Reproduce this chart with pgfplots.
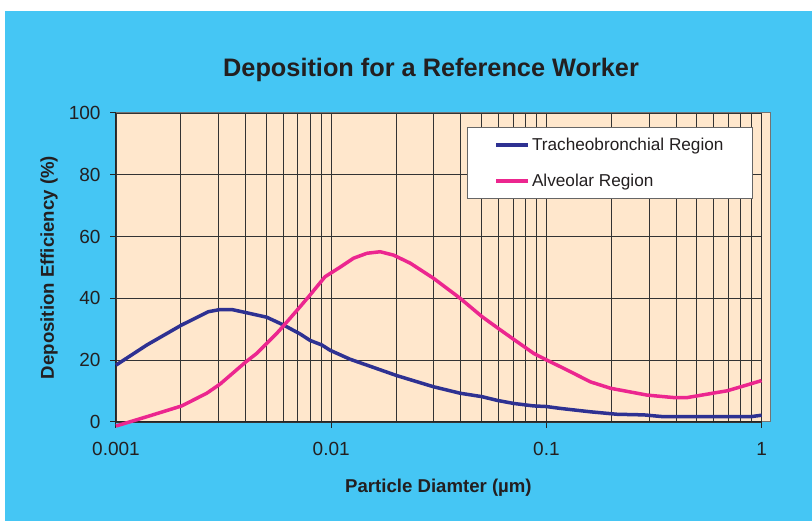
\documentclass[border=0pt]{standalone}
\usepackage{fontspec}
\setmainfont{Liberation Sans}
\usepackage{pgfplots}
\pgfplotsset{compat=1.18}
\definecolor{bgblue}{HTML}{45C6F4}
\definecolor{peach}{HTML}{FFE7CC}
\definecolor{tbblue}{HTML}{2E3192}
\definecolor{alvpink}{HTML}{EC268F}
\definecolor{txt}{HTML}{231F20}
\begin{document}
\begin{tikzpicture}[x=1pt,y=1pt]
\fill[white] (0,0) rectangle (812,521);
\fill[bgblue] (5,0) rectangle (812,510);
\fill[peach] (116,99) rectangle (770,408);
\draw[black!55, line width=1pt] (116,99) rectangle (770,408);
\begin{axis}[
  at={(116pt,99pt)}, anchor=south west,
  scale only axis, width=645.6pt, height=309pt,
  xmode=log, xmin=0.001, xmax=1, ymin=0, ymax=100,
  clip=false,
  axis x line=bottom, axis y line=left,
  axis line style={-, draw=black!85, line width=1pt},
  xtick={0.001,0.01,0.1,1}, xticklabels={0.001,0.01,0.1,1},
  ytick={0,20,40,60,80,100},
  tick align=outside, major tick length=6pt, minor tick length=0pt,
  tick style={draw=black!85, line width=1pt},
  xmajorgrids, xminorgrids, ymajorgrids,
  grid style={draw=black!80, line width=0.9pt},
  minor grid style={draw=black!80, line width=0.9pt},
  /pgf/number format/assume math mode=true,
  tick label style={font=\fontsize{19}{22}\selectfont, text=txt},
  xticklabel style={yshift=-11pt},
  yticklabel style={xshift=-6pt},
  title={Deposition for a Reference Worker},
  title style={at={(axis description cs:0.488,1.12)}, anchor=center, font=\bfseries\fontsize{25.3}{30}\selectfont, text=txt},
  xlabel={Particle Diamter (µm)},
  xlabel style={at={(axis description cs:0.4995,-0.214)}, anchor=center, font=\bfseries\fontsize{18.6}{22}\selectfont, text=txt},
  ylabel={Deposition Efficiency (\%)},
  ylabel style={at={(axis description cs:-0.1038,0.5)}, anchor=center, font=\bfseries\fontsize{18.6}{22}\selectfont, text=txt},
  legend style={at={(axis description cs:0.5437,0.9547)}, anchor=north west,
    draw=black!60, line width=1pt, fill=white, inner xsep=27pt, inner ysep=8.5pt,
    row sep=18pt, font=\fontsize{17.2}{20}\selectfont, text=txt},
  legend cell align=left,
  legend image code/.code={\draw[#1] (0pt,0pt) -- (32pt,0pt);},
]
\addplot[tbblue, line width=3.5pt, line join=round] coordinates {
(0.001,18.4) (0.00139,24.9) (0.00202,31.4) (0.00269,35.7) (0.00305,36.4) (0.00345,36.4) (0.00402,35.4) (0.00502,33.9) (0.006,31.4) (0.00717,28.5) (0.00798,26.4) (0.00906,24.9) (0.00989,23.2) (0.01225,20.3) (0.01466,18.4) (0.0202,15.0) (0.0299,11.4) (0.0398,9.3) (0.0502,8.2) (0.059,7.0) (0.0705,6.0) (0.0873,5.2) (0.1,5.0) (0.116,4.4) (0.16,3.3) (0.213,2.5) (0.284,2.3) (0.351,1.7) (0.52,1.7) (0.889,1.7) (1,2.2)
};
\addlegendentry{Tracheobronchial Region}
\addplot[alvpink, line width=3.5pt, line join=round] coordinates {
(0.001,-1.3) (0.00139,1.7) (0.00202,5.2) (0.00264,9.3) (0.00305,12.3) (0.00402,19.5) (0.00451,22.2) (0.00559,28.7) (0.006,31.1) (0.00717,37.3) (0.00798,41.1) (0.00936,47.0) (0.011,50.1) (0.0127,53.0) (0.01466,54.6) (0.0169,55.1) (0.0195,54.0) (0.0233,51.4) (0.0299,46.5) (0.0398,40.0) (0.0502,34.1) (0.0611,29.8) (0.073,26.0) (0.0873,22.2) (0.1,20.1) (0.125,16.8) (0.16,13.0) (0.199,10.9) (0.294,8.7) (0.391,7.9) (0.451,7.9) (0.558,9.0) (0.692,10.1) (0.857,12.0) (1,13.4)
};
\addlegendentry{Alveolar Region}
\end{axis}
\end{tikzpicture}
\end{document}
